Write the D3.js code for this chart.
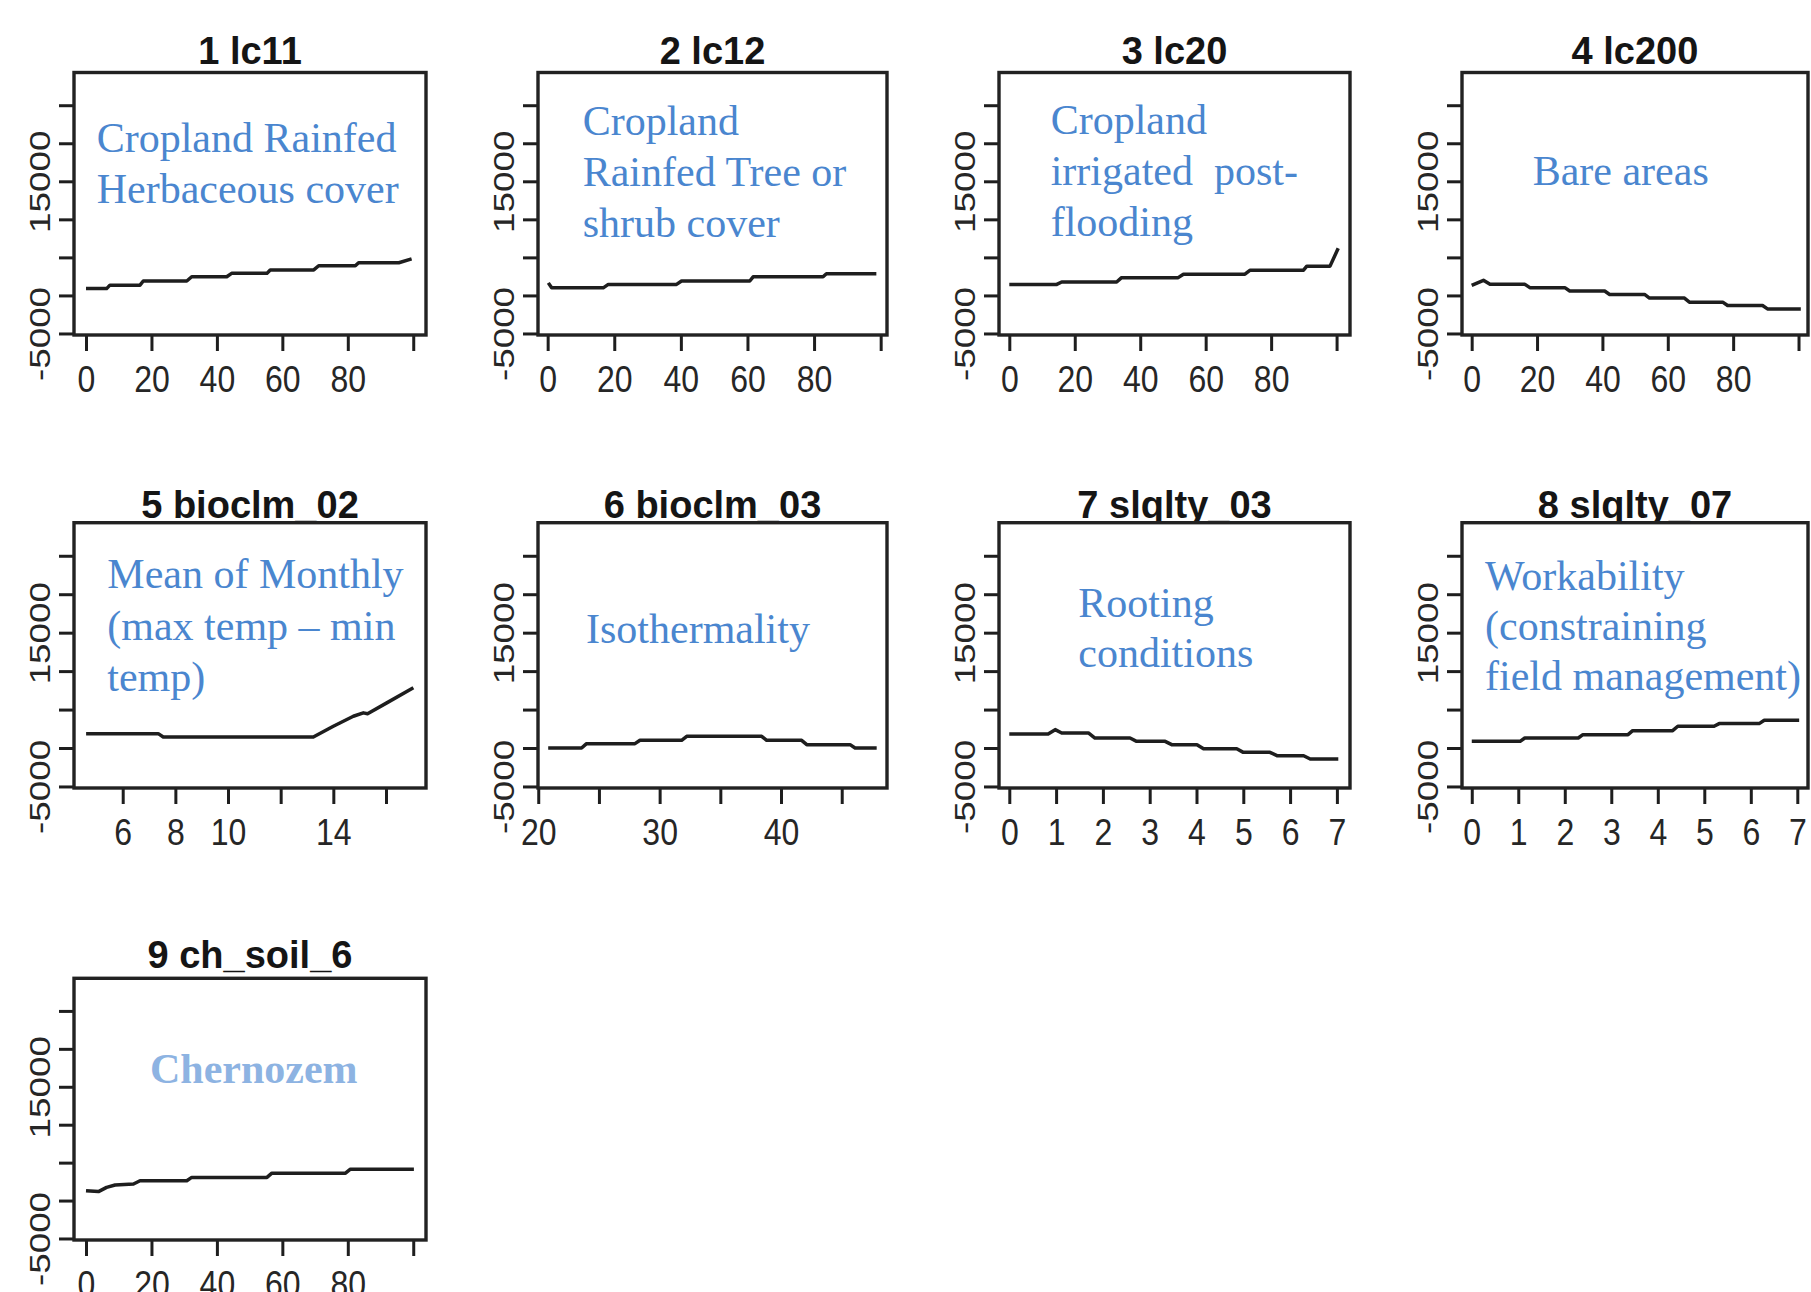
<!DOCTYPE html>
<html><head><meta charset="utf-8">
<script src="https://cdn.jsdelivr.net/npm/d3@7/dist/d3.min.js"></script>
<style>body{margin:0;background:#fff}svg{display:block}</style>
</head><body>
<svg id="chart" width="1811" height="1292"></svg>
<script>
// ---------- DATA ----------
const titles = ["1 lc11","2 lc12","3 lc20","4 lc200","5 bioclm_02","6 bioclm_03","7 slqlty_03","8 slqlty_07","9 ch_soil_6"];
const notes = [
  ["Cropland Rainfed","Herbaceous cover"],
  ["Cropland","Rainfed Tree or","shrub cover"],
  ["Cropland","irrigated  post-","flooding"],
  ["Bare areas"],
  ["Mean of Monthly","(max temp \u2013 min","temp)"],
  ["Isothermality"],
  ["Rooting","conditions"],
  ["Workability","(constraining","field management)"],
  ["Chernozem"]
];
const yTicks = [-5000, 0, 5000, 10000, 15000, 20000, 25000];
const yLabeled = [-5000, 15000];
const yRange = [-5200, 29300];

const pctTicks = [0, 20, 40, 60, 80, 100];
const pctLabeled = [0, 20, 40, 60, 80];
const bio02Ticks = [6, 8, 10, 12, 14, 16];
const bio02Labeled = [6, 8, 10, 14];
const bio03Ticks = [20, 25, 30, 35, 40, 45];
const bio03Labeled = [20, 30, 40];
const sqTicks = [0, 1, 2, 3, 4, 5, 6, 7];
const sqLabeled = [0, 1, 2, 3, 4, 5, 6, 7];

const xRanges = [[-3.67,103.9],[-2.9,101.9],[-3.15,104.1],[-2.96,102.9],[4.15,17.52],[19.98,48.73],[-0.22,7.28],[-0.21,7.23],[-3.67,103.9]];

const lc11X = [0, 6.3, 7.3, 16.5, 17.5, 30.8, 32.3, 43, 44.5, 55.3, 56.3, 69.6, 71.1, 82.3, 83.3, 95.6, 99.5];
const lc11Y = [900, 900, 1350, 1350, 1900, 1900, 2450, 2450, 2900, 2900, 3350, 3350, 3900, 3900, 4300, 4300, 4800];
const lc12X = [0.2, 1.2, 16.7, 18.2, 38.7, 40.2, 60.7, 61.7, 82.7, 83.7, 98.7];
const lc12Y = [1650, 1000, 1000, 1450, 1450, 1900, 1900, 2450, 2450, 2850, 2850];
const lc20X = [0, 14.5, 16, 32.8, 34.3, 51.6, 53.2, 72, 73.6, 89.9, 90.9, 98, 100.5];
const lc20Y = [1450, 1450, 1770, 1770, 2340, 2340, 2790, 2790, 3320, 3320, 3850, 3850, 6200];
const lc200X = [0, 3.6, 5.6, 16.3, 17.8, 28.5, 30, 40.7, 42.2, 52.9, 54.4, 65.1, 66.6, 76.8, 78.3, 89, 90.5, 100.7];
const lc200Y = [1330, 1990, 1460, 1460, 1020, 1020, 575, 575, 130, 130, -350, -350, -880, -880, -1330, -1330, -1770, -1770];
const bio02X = [4.61, 7.35, 7.54, 13.24, 14.0, 14.76, 15.14, 15.3, 16.03, 17.04];
const bio02Y = [1870, 1870, 1435, 1435, 2830, 4130, 4570, 4450, 5870, 7830];
const bio03X = [20.82, 23.57, 23.98, 27.97, 28.38, 31.81, 32.23, 38.41, 38.82, 41.7, 42.12, 45.69, 46.1, 47.88];
const bio03Y = [0, 0, 565, 565, 1000, 1000, 1520, 1520, 1000, 1000, 435, 435, 0, 0];
const sq03X = [0, 0.83, 0.98, 1.12, 1.69, 1.83, 2.58, 2.72, 3.33, 3.47, 4.01, 4.15, 4.86, 5.0, 5.57, 5.72, 6.29, 6.43, 7.03];
const sq03Y = [1830, 1830, 2390, 1960, 1960, 1300, 1300, 870, 870, 435, 435, -90, -90, -565, -565, -1000, -1000, -1435, -1435];
const sq07X = [0, 1.04, 1.14, 2.29, 2.39, 3.36, 3.46, 4.32, 4.43, 5.21, 5.32, 6.18, 6.29, 7.04];
const sq07Y = [870, 870, 1305, 1305, 1740, 1740, 2260, 2260, 2830, 2830, 3175, 3175, 3610, 3610];
const ch6X = [0, 3.8, 6.3, 8.9, 14.5, 16.5, 30.8, 32.3, 55.3, 56.8, 79.3, 80.8, 100.2];
const ch6Y = [1300, 1180, 1740, 2050, 2180, 2610, 2610, 3050, 3050, 3610, 3610, 4130, 4130];

const seriesX = [lc11X, lc12X, lc20X, lc200X, bio02X, bio03X, sq03X, sq07X, ch6X];
const seriesY = [lc11Y, lc12Y, lc20Y, lc200Y, bio02Y, bio03Y, sq03Y, sq07Y, ch6Y];
const xTickSets = [pctTicks, pctTicks, pctTicks, pctTicks, bio02Ticks, bio03Ticks, sqTicks, sqTicks, pctTicks];
const xLabelSets = [pctLabeled, pctLabeled, pctLabeled, pctLabeled, bio02Labeled, bio03Labeled, sqLabeled, sqLabeled, pctLabeled];

// ---------- LAYOUT ----------
const boxLeft = [74, 538, 999, 1462];
const boxWidth = [352, 349, 351, 346];
const rowTop = [72.5, 522.7, 978.3];
const rowBottom = [335, 788, 1240];
const titleGap = [9, 5, 10];
// [dx from box left, first baseline from box top, line spacing]
const noteLayout = [[22.7,79,51],[44.7,62.5,51],[51.7,61,51],[70.7,112.5,0],[33.3,65.6,51.5],[48,120,0],[79.3,94,50],[23,67.3,50],[76,105,0]];

const svg = d3.select("#chart");
svg.append("rect").attr("width",1811).attr("height",1292).attr("fill","#fff");

const defs = svg.append("defs");
rowTop.forEach((t, r) => {
  defs.append("clipPath").attr("id", "titleclip" + r)
    .append("rect").attr("x", 0).attr("y", t - 80).attr("width", 1811).attr("height", 80);
});

const SANS = "'Liberation Sans', Arial, Helvetica, sans-serif";
const SERIF = "'Liberation Serif', 'Times New Roman', serif";
const INK = "#1e1e1e";

titles.forEach((title, i) => {
  const col = i % 4, row = Math.floor(i / 4);
  const L = boxLeft[col], R = L + boxWidth[col];
  const T = rowTop[row], B = rowBottom[row];
  const x = d3.scaleLinear().domain(xRanges[i]).range([L, R]);
  const y = d3.scaleLinear().domain(yRange).range([B, T]);
  const g = svg.append("g");

  // title (anything below the box top is hidden behind the frame)
  g.append("text")
    .attr("clip-path", `url(#titleclip${row})`)
    .attr("x", (L + R) / 2).attr("y", T - titleGap[row])
    .attr("text-anchor", "middle")
    .attr("font-family", SANS).attr("font-weight", "bold").attr("font-size", 38)
    .attr("fill", "#151515")
    .text(title);

  // annotation text
  const nl = noteLayout[i];
  const isChern = i === 8;
  notes[i].forEach((line, k) => {
    g.append("text")
      .attr("x", L + nl[0]).attr("y", T + nl[1] + k * nl[2])
      .attr("font-family", SERIF).attr("font-size", 42)
      .attr("font-weight", isChern ? "bold" : "normal")
      .attr("fill", isChern ? "#8db3e2" : "#4a86cf")
      .attr("xml:space", "preserve").style("white-space", "pre")
      .text(line);
  });

  // series line
  const pts = seriesX[i].map((v, k) => [v, seriesY[i][k]]);
  g.append("path")
    .datum(pts)
    .attr("d", d3.line().x(d => x(d[0])).y(d => y(d[1])))
    .attr("fill", "none").attr("stroke", INK).attr("stroke-width", 3.5)
    .attr("stroke-linejoin", "round");

  // x axis
  const labX = xLabelSets[i];
  const ax = g.append("g").attr("transform", `translate(0,${B})`)
    .call(d3.axisBottom(x).tickValues(xTickSets[i]).tickSize(16).tickSizeOuter(0)
      .tickFormat(d => labX.includes(d) ? String(d) : ""));
  ax.select(".domain").remove();
  ax.selectAll(".tick line").attr("stroke", INK).attr("stroke-width", 3);
  ax.selectAll(".tick text")
    .attr("y", null).attr("dy", null)
    .attr("transform", "translate(0,56.5) scale(1,1.17)")
    .attr("font-family", SANS).attr("font-size", 32).attr("fill", "#262626");

  // y axis
  const ay = g.append("g").attr("transform", `translate(${L},0)`)
    .call(d3.axisLeft(y).tickValues(yTicks).tickSize(15).tickSizeOuter(0)
      .tickFormat(d => yLabeled.includes(d) ? String(d) : ""));
  ay.select(".domain").remove();
  ay.selectAll(".tick line").attr("stroke", INK).attr("stroke-width", 3);
  ay.selectAll(".tick text")
    .attr("x", null).attr("dy", null)
    .attr("text-anchor", "middle")
    .attr("transform", "translate(-24,0) scale(1,1.27) rotate(-90)")
    .attr("font-family", SANS).attr("font-size", 29).attr("fill", "#262626");

  // box
  g.append("rect")
    .attr("x", L).attr("y", T).attr("width", R - L).attr("height", B - T)
    .attr("fill", "none").attr("stroke", "#222").attr("stroke-width", 3.4);
});
</script>
</body></html>
